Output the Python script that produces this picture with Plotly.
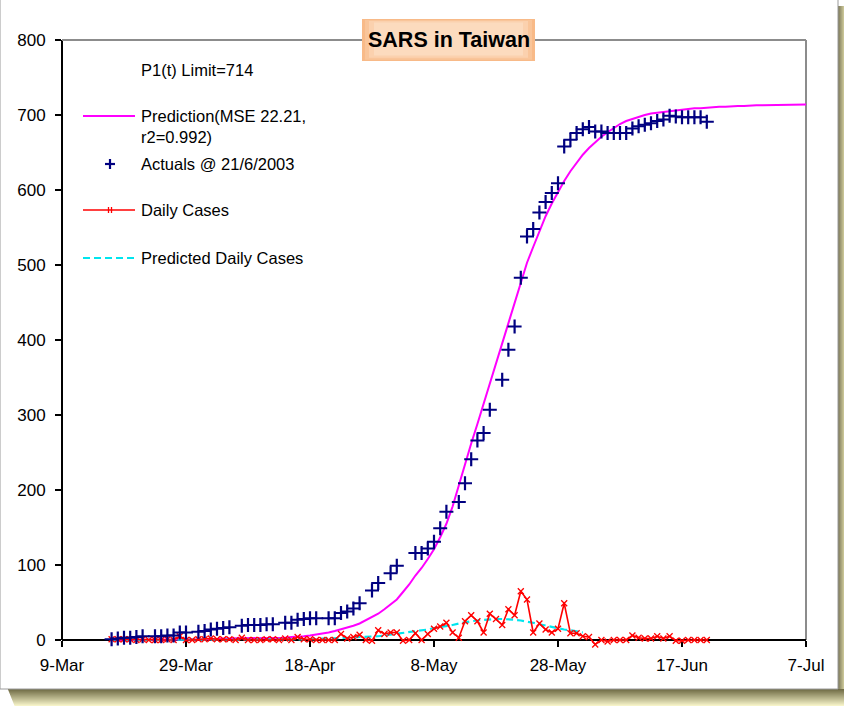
import pandas as pd
import plotly.graph_objects as go

START = pd.Timestamp("2003-03-09")

# Cumulative reported cases (day offset from 9 March, value)
actual_day = [8, 9, 10, 11, 12, 13, 15, 16, 17, 18, 19, 20, 22, 23, 24, 25, 26, 27,
              29, 30, 31, 32, 33, 34, 36, 37, 38, 39, 40, 41, 43, 44, 45, 46, 47, 48,
              50, 51, 53, 54, 57, 58, 59, 60, 61, 62, 64, 65, 66, 67, 68, 69,
              71, 72, 73, 74, 75, 76, 77, 78, 79, 80, 81, 82, 83, 84, 85, 86, 87, 88,
              89, 90, 91, 92, 93, 94, 95, 96, 97, 98, 99, 100, 101, 102, 103, 104]
actual_cases = [1, 2, 3, 3, 4, 5, 5, 5, 6, 6, 10, 10, 11, 12, 14, 15, 16, 17,
                19, 20, 20, 20, 21, 21, 23, 23, 27, 28, 29, 29, 29, 29, 36, 38, 42, 49,
                66, 76, 89, 99, 116, 116, 122, 131, 149, 171, 184, 209, 241, 266, 276, 307,
                347, 387, 418, 483, 538, 548, 570, 584, 596, 609, 658, 667, 676, 681, 684, 678, 678, 676,
                676, 676, 676, 682, 685, 687, 689, 692, 694, 699, 698, 697, 697, 697, 697, 691]

# Fitted cumulative curve, one value per day starting at day 8
pred_start = 8
pred_cases = [0, 0, 0, 1, 1, 1, 1, 1, 1, 1, 1, 1, 1, 1, 1, 1, 1, 1, 2, 2, 2, 2,
              2, 2, 2, 3, 3, 3, 3, 4, 4, 5, 6, 7, 9, 10, 12, 14, 17, 19, 22, 26,
              30, 35, 41, 47, 54, 64, 74, 86, 96, 108, 121, 137, 155, 178, 206, 236,
              262, 288, 315, 343, 370, 396, 422, 452, 479, 503, 524, 545, 565, 582,
              598, 612, 625, 636, 647, 656, 664, 671, 677, 683, 688, 692, 695, 698,
              700, 702, 703, 705, 706, 707, 708, 708, 709, 709, 710, 710, 711, 711,
              712, 712, 712, 713, 713, 713, 713, 713, 713, 713, 713, 714, 714, 714]

# Daily new cases, day 8 .. day 104
daily_start = 8
daily_cases = [1, 1, 1, 1, 0, 1, 0, 0, 0, 1,
               0, 5, 0, 0, 1, 1, 2, 1, 1, 1,
               0, 3, 0, 0, 0, 1, 1, 0, 2, 0,
               4, 1, 1, 0, 0, 0, 0, 8, 2, 4,
               7, 0, -1, 13, 8, 10, 10, -1, 0, 9,
               0, 8, 15, 18, 23, 10, 3, 25, 33, 25,
               10, 35, 28, 20, 41, 33, 65, 54, 10, 22,
               14, 10, 15, 49, 9, 9, 5, 4, -6, 0,
               -2, 0, 0, 0, 6, 3, 2, 2, 5, 2,
               5, -1, -1, 0, 0, 0, 0]

# Predicted daily cases, day 8 .. day 84
pdaily_start = 8
pdaily_cases = [0] * 22 + [0, 0, 0, 0, 1, 1, 1, 1, 1, 1,
                           1, 1, 2, 2, 2, 3, 3, 3, 4, 4,
                           5, 5, 6, 7, 8, 9, 10, 11, 13, 14,
                           16, 17, 19, 20, 22, 24, 25, 26, 27, 28,
                           28, 28, 28, 27, 26, 25, 23, 21, 19, 17,
                           16, 14, 13, 11, 10]

y_ticks = [0, 100, 200, 300, 400, 500, 600, 700, 800]
Y_MIN, Y_MAX = -8, 800  # a little room below zero for negative daily counts

FONT = "Liberation Sans, Arial, sans-serif"
W, H = 844, 707
L, R, T = 62, 806, 40
ZERO = 640                                   # pixel row of y = 0
PB = ZERO + (ZERO - T) * (-Y_MIN) / Y_MAX    # bottom of the drawing area


def px(x):
    return (x - L) / (R - L)


def py(y):
    return (PB - y) / (PB - T)


def days(start, n):
    return pd.date_range(START + pd.Timedelta(days=start), periods=n, freq="D")


fig = go.Figure()

fig.add_trace(go.Scatter(
    x=days(pred_start, len(pred_cases)), y=pred_cases, mode="lines",
    line=dict(color="#FF00FF", width=2), name="Prediction"))

fig.add_trace(go.Scatter(
    x=days(pdaily_start, len(pdaily_cases)), y=pdaily_cases, mode="lines",
    line=dict(color="#00E5EE", width=2.2, dash="7px,4px"), name="Predicted Daily Cases"))

fig.add_trace(go.Scatter(
    x=days(daily_start, len(daily_cases)), y=daily_cases, mode="lines+markers",
    line=dict(color="#FF0000", width=1.6),
    marker=dict(symbol="x-thin", size=6, line=dict(color="#FF0000", width=1.3)),
    cliponaxis=False, name="Daily Cases"))

fig.add_trace(go.Scatter(
    x=[START + pd.Timedelta(days=d) for d in actual_day], y=actual_cases, mode="markers",
    marker=dict(symbol="cross-thin", size=10, line=dict(color="#000080", width=2.2)),
    cliponaxis=False, name="Actuals"))

shapes = []

# drop shadow along the bottom and right edges
def mix(c1, c2, t):
    return "rgb(%d,%d,%d)" % tuple(round(a + (b - a) * t) for a, b in zip(c1, c2))

dark, light = (112, 108, 70), (246, 243, 200)
for i in range(17):
    y0 = 689 + i
    shapes.append(dict(type="rect", xref="paper", yref="paper", layer="below",
                       x0=px(8 + i * 0.4), x1=px(W + 5), y0=py(y0), y1=py(y0 + 1.05),
                       line=dict(width=0), fillcolor=mix(dark, light, i / 16)))
for i in range(6):
    x0 = 838 + i
    shapes.append(dict(type="rect", xref="paper", yref="paper", layer="below",
                       x0=px(x0), x1=px(x0 + 1.05), y0=py(6), y1=py(689),
                       line=dict(width=0), fillcolor=mix((128, 124, 92), (200, 196, 150), i / 5)))
shapes.append(dict(type="rect", xref="paper", yref="paper", layer="below",
                   x0=px(0), x1=px(838), y0=py(-2), y1=py(689),
                   line=dict(color="#9a9a9a", width=1), fillcolor="white"))

# plot frame: black value axis, grey top and right edges
shapes.append(dict(type="line", xref="paper", yref="y", layer="below", x0=0, x1=0,
                   y0=0, y1=Y_MAX, line=dict(color="#000000", width=2)))
shapes.append(dict(type="line", xref="paper", yref="paper", layer="below", x0=0, x1=1, y0=1, y1=1,
                   line=dict(color="#8c8c8c", width=2)))
shapes.append(dict(type="line", xref="paper", yref="y", layer="below", x0=1, x1=1,
                   y0=0, y1=Y_MAX, line=dict(color="#8c8c8c", width=2)))

# title box with a soft orange shading
for inset, col in [(0, "#F8BA88"), (3, "#F9C59A"), (7, "#FBD1AE"), (12, "#FCDBBE")]:
    shapes.append(dict(type="rect", xref="paper", yref="paper", layer="above",
                       x0=px(362 + inset), x1=px(535 - inset),
                       y0=py(61 - inset * 0.45), y1=py(19 + inset * 0.3),
                       line=dict(width=0), fillcolor=col))

# legend samples
shapes.append(dict(type="line", xref="paper", yref="paper", x0=px(83), x1=px(135),
                   y0=py(116), y1=py(116), line=dict(color="#FF00FF", width=2)))
shapes.append(dict(type="line", xref="paper", yref="paper", x0=px(105), x1=px(115),
                   y0=py(164), y1=py(164), line=dict(color="#000080", width=2.2)))
shapes.append(dict(type="line", xref="paper", yref="paper", x0=px(110), x1=px(110),
                   y0=py(159), y1=py(169), line=dict(color="#000080", width=2.2)))
shapes.append(dict(type="line", xref="paper", yref="paper", x0=px(83), x1=px(135),
                   y0=py(210), y1=py(210), line=dict(color="#FF0000", width=1.6)))
for dx in (-1.5, 1.5):
    shapes.append(dict(type="line", xref="paper", yref="paper", x0=px(110 + dx), x1=px(110 + dx),
                       y0=py(207), y1=py(213), line=dict(color="#FF0000", width=1.3)))
shapes.append(dict(type="line", xref="paper", yref="paper", x0=px(83), x1=px(135),
                   y0=py(258), y1=py(258), line=dict(color="#00E5EE", width=2, dash="7px,4px")))

annotations = [
    dict(text="<b>SARS in Taiwan</b>", xref="paper", yref="paper", x=px(448.5), y=py(40),
         xanchor="center", yanchor="middle", showarrow=False,
         font=dict(family=FONT, size=21.5, color="#000000")),
]
legend_text = [
    ("P1(t) Limit=714", 70),
    ("Prediction(MSE 22.21,<br>r2=0.992)", 126),
    ("Actuals @ 21/6/2003", 164),
    ("Daily Cases", 210),
    ("Predicted Daily Cases", 258),
]
for txt, y in legend_text:
    annotations.append(dict(text=txt, xref="paper", yref="paper", x=px(139), y=py(y),
                            xanchor="left", yanchor="middle", align="left", showarrow=False,
                            font=dict(family=FONT, size=16.5, color="#000000")))

fig.update_layout(
    width=W, height=H,
    margin=dict(l=L, r=W - R, t=T, b=H - PB, pad=0),
    paper_bgcolor="white", plot_bgcolor="white",
    showlegend=False,
    font=dict(family=FONT, size=17, color="#000000"),
    shapes=shapes, annotations=annotations,
    xaxis=dict(type="date", range=[START, START + pd.Timedelta(days=120)],
               tick0=START, dtick=20 * 86400000, tickformat="%-d-%b",
               anchor="free", position=(-Y_MIN) / (Y_MAX - Y_MIN),
               ticks="outside", ticklen=6, tickwidth=1.5, tickcolor="#000000",
               showline=True, linecolor="#000000", linewidth=2, layer="below traces",
               showgrid=False, zeroline=False, ticklabelstandoff=4,
               tickfont=dict(family=FONT, size=17, color="#000000")),
    yaxis=dict(range=[Y_MIN, Y_MAX], tickvals=y_ticks,
               ticks="outside", ticklen=6, tickwidth=1.5, tickcolor="#000000",
               showline=False, layer="below traces",
               showgrid=False, zeroline=False, ticklabelstandoff=6,
               tickfont=dict(family=FONT, size=17, color="#000000")),
)

fig.write_html("out.html")
